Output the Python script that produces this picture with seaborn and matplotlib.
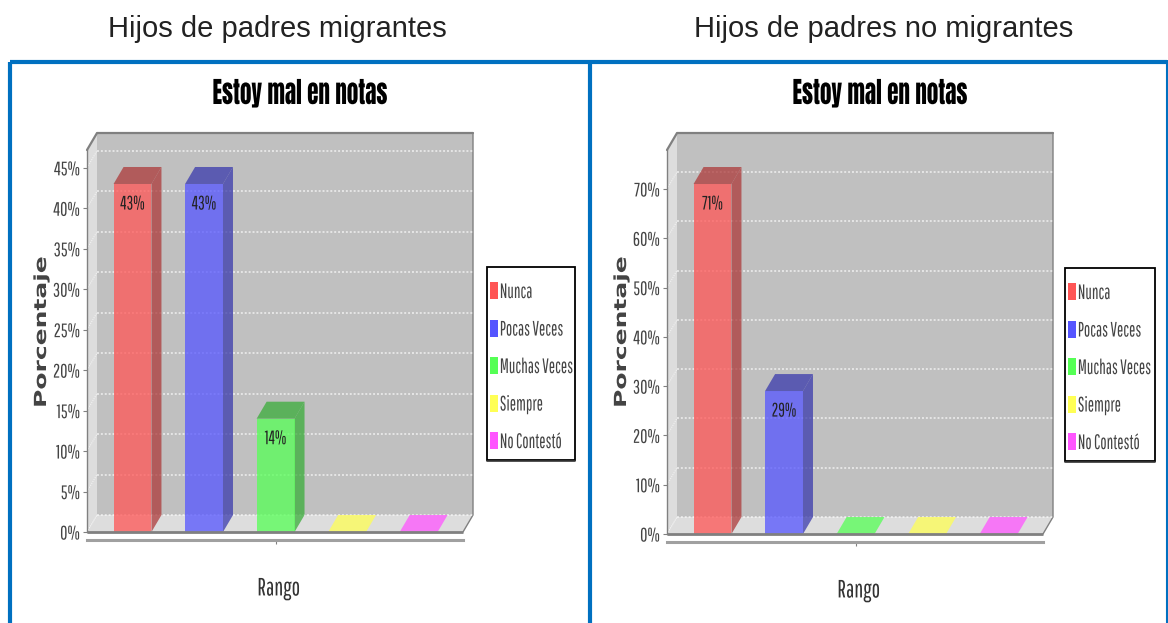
import matplotlib
matplotlib.use("Agg")
import matplotlib.pyplot as plt
import matplotlib.colors as mcolors
import matplotlib.patheffects as pe
import pandas as pd
import seaborn as sns
from matplotlib.lines import Line2D
from matplotlib.patches import Patch, Polygon, Rectangle
from matplotlib.transforms import Affine2D

W, H = 1168, 623
categorias = ["Nunca", "Pocas Veces", "Muchas Veces", "Siempre", "No Contestó"]
colores = ["#FF5555", "#5555FF", "#55FF55", "#FFFF55", "#FF55FF"]
cabeceras = ["Hijos de padres migrantes", "Hijos de padres no migrantes"]
valores_migrantes = [43, 43, 14, 0, 0]
valores_no_migrantes = [71, 29, 0, 0, 0]
ticks_migrantes = [0, 5, 10, 15, 20, 25, 30, 35, 40, 45]
ticks_no_migrantes = [0, 10, 20, 30, 40, 50, 60, 70]

NARROW = ["Pathway Gothic One", "Liberation Sans Narrow", "DejaVu Sans"]
TITULO = ["Anton", "DejaVu Sans"]
DX, DY = 10, 17
ALPHA = 0.75

sns.set_theme(style="white")
plt.rcParams["font.family"] = ["Liberation Sans", "DejaVu Sans"]
fig = plt.figure(figsize=(W / 100, H / 100), dpi=100, facecolor="white")


class Ensanchar(pe.AbstractPathEffect):
    # estira o encoge el texto a lo largo de su eje, como el grafico original
    def __init__(self, factor, ancla="center"):
        super().__init__()
        self.factor = factor
        self.ancla = ancla

    def draw_path(self, renderer, gc, tpath, affine, rgbFace=None):
        ext = tpath.get_extents()
        c = {"center": (ext.x0 + ext.x1) / 2, "left": ext.x0, "right": ext.x1}[self.ancla]
        t = Affine2D().translate(-c, 0).scale(self.factor, 1).translate(c, 0)
        renderer.draw_path(gc, tpath, t + affine, rgbFace)


def panel(valores, ticks, box, ymax, legend_box, titulo_x, cabecera_x, cabecera):
    l, r, t, b = box
    ax = fig.add_axes([l / W, 1 - b / H, (r - l) / W, (b - t) / H])
    ax.patch.set_alpha(0)
    df = pd.DataFrame({"cat": categorias, "val": valores})
    sns.barplot(data=df, x="cat", y="val", hue="cat", palette=colores, width=0.53,
                dodge=False, legend=False, alpha=ALPHA, saturation=1, linewidth=0, ax=ax, zorder=4)
    ax.set_xlim(-0.636, 4.62)
    ax.set_ylim(0, ymax)
    back = ax.transData + Affine2D().translate(DX, DY)

    # paredes y piso en pixeles
    x0, y0 = ax.transAxes.transform((0, 0))
    x1, y1 = ax.transAxes.transform((1, 1))
    ax.add_patch(Polygon([(x0 + DX, y0 + DY), (x1 + DX, y0 + DY), (x1 + DX, y1 + DY), (x0 + DX, y1 + DY)],
                         transform=None, fc="#C0C0C0", ec="none", zorder=0, clip_on=False))
    ax.add_patch(Polygon([(x0, y0), (x0 + DX, y0 + DY), (x0 + DX, y1 + DY), (x0, y1)],
                         transform=None, fc="#DDDDDD", ec="none", zorder=0, clip_on=False))
    ax.add_patch(Polygon([(x0, y0), (x1, y0), (x1 + DX, y0 + DY), (x0 + DX, y0 + DY)],
                         transform=None, fc="#DDDDDD", ec="none", zorder=0, clip_on=False))
    ax.plot([x0, x0 + DX, x1 + DX], [y1, y1 + DY, y1 + DY], transform=None, color="#808080", lw=1.6,
            zorder=1, clip_on=False)
    ax.plot([x1 + DX, x1 + DX, x1], [y1 + DY, y0 + DY, y0], transform=None, color="#808080", lw=1,
            zorder=1, clip_on=False)
    ax.hlines(ticks, -0.636, 4.62, transform=back, colors="white", lw=1.4, linestyles=(0, (1, 1)),
              alpha=0.6, zorder=1, clip_on=False)
    for k in ticks:
        ym = ax.transData.transform((0, k))[1]
        ax.plot([x0, x0 + DX], [ym, ym + DY], transform=None, color="white", lw=0.8, ls=(0, (1, 1)),
                alpha=0.6, zorder=1, clip_on=False)
    ax.hlines(0, -0.636, 4.62, color="#808080", lw=2, zorder=6, clip_on=False)

    # caras laterales y superiores de cada barra
    for bar, color, v in zip([p for p in ax.patches if isinstance(p, Rectangle)][:5], colores, valores):
        a = ax.transData.transform((bar.get_x(), 0))
        c = ax.transData.transform((bar.get_x() + bar.get_width(), v))
        oscuro = [q * 0.68 for q in mcolors.to_rgb(color)]
        if v > 0:
            ax.add_patch(Polygon([(c[0], a[1]), (c[0] + DX, a[1] + DY), (c[0] + DX, c[1] + DY), (c[0], c[1])],
                                 transform=None, fc=oscuro, alpha=ALPHA, ec="none", zorder=3, clip_on=False))
            ax.add_patch(Polygon([(a[0], c[1]), (c[0], c[1]), (c[0] + DX, c[1] + DY), (a[0] + DX, c[1] + DY)],
                                 transform=None, fc=oscuro, alpha=ALPHA, ec="none", zorder=3, clip_on=False))
        else:
            ax.add_patch(Polygon([(a[0], a[1]), (c[0], a[1]), (c[0] + DX, a[1] + DY), (a[0] + DX, a[1] + DY)],
                                 transform=None, fc=color, alpha=ALPHA, ec="none", zorder=3, clip_on=False))

    for i, v in enumerate(valores):
        if v > 0:
            ax.annotate(f"{v}%", (i, v), xytext=(0, -20 * 0.72), textcoords="offset points", ha="center",
                        va="center", fontsize=14, color="#222222", family=NARROW, zorder=7,
                        path_effects=[Ensanchar(0.85)])

    sns.despine(ax=ax, top=True, right=True)
    ax.spines["left"].set_color("#808080")
    ax.spines["left"].set_linewidth(1)
    ax.spines["bottom"].set_position(("outward", 6))
    ax.spines["bottom"].set_color("#A0A0A0")
    ax.spines["bottom"].set_linewidth(2.2)
    ax.set_yticks(ticks, [f"{k}%" for k in ticks], family=NARROW, fontsize=14, color="#444444",
                  path_effects=[Ensanchar(0.92, "right")])
    ax.set_xticks([2], [""])
    ax.tick_params(axis="both", bottom=True, left=True, length=3, width=0.8, color="#808080", pad=2)
    ax.set_xlabel("Rango", family=NARROW, fontsize=18, color="#333333", labelpad=21, x=0.51,
                  path_effects=[Ensanchar(0.9)])
    ax.set_ylabel("Porcentaje", family="DejaVu Sans", fontweight="bold", fontsize=12, color="#444444",
                  path_effects=[Ensanchar(1.5)])
    ax.yaxis.set_label_coords(-37 / (r - l), (b - 332) / (b - t))

    # marco de la leyenda con su sombra
    lx0, lx1, ly0, ly1 = legend_box
    ax.add_patch(Rectangle((lx0 / W, 1 - ly1 / H), (lx1 - lx0) / W, (ly1 - ly0) / H, transform=fig.transFigure,
                           fc="white", ec="black", lw=1.3, zorder=9, clip_on=False))
    ax.plot([lx0 / W, lx1 / W], [1 - (ly1 + 1) / H] * 2, transform=fig.transFigure, color="#333333", lw=1.2,
            zorder=9, clip_on=False)
    handles = [Patch(fc=c, ec="none") for c in colores]
    leg = ax.legend(handles, categorias, loc="upper left", bbox_to_anchor=((lx0 + 3) / W, 1 - (ly0 + 15) / H),
                    bbox_transform=fig.transFigure, frameon=False, prop={"family": NARROW, "size": 15},
                    labelcolor="#444444", handlelength=0.36, handleheight=0.85, handletextpad=0.1,
                    labelspacing=0.84, borderpad=0, borderaxespad=0)
    leg.set_zorder(10)
    for txt in leg.get_texts():
        txt.set_path_effects([Ensanchar(0.8, "left")])

    fig.text(titulo_x / W, 1 - 93 / H, "Estoy mal en notas", ha="center", va="center",
             family=TITULO, fontsize=21, color="black", path_effects=[Ensanchar(0.79)])
    fig.text(cabecera_x / W, 1 - 29 / H, cabecera, ha="center", va="center", fontsize=21, color="#222222")
    return ax


panel(valores_migrantes, ticks_migrantes, (87, 463, 150, 532), 47.2, (487, 575, 267, 460), 300, 277, cabeceras[0])
panel(valores_no_migrantes, ticks_no_migrantes, (667, 1043, 150, 534), 77.9, (1065, 1155, 268, 461), 880, 884, cabeceras[1])

# marco azul
azul = "#0070C0"
for xs, ys, ancho in [([10, 10], [623, 62], 3), ([10, 1167], [62, 62], 3), ([590, 590], [623, 62], 3),
                      ([1167, 1167], [623, 60], 1.5)]:
    fig.add_artist(Line2D([x / W for x in xs], [1 - y / H for y in ys], color=azul, lw=ancho,
                          solid_capstyle="butt"))

fig.savefig("out.png", dpi=100)
